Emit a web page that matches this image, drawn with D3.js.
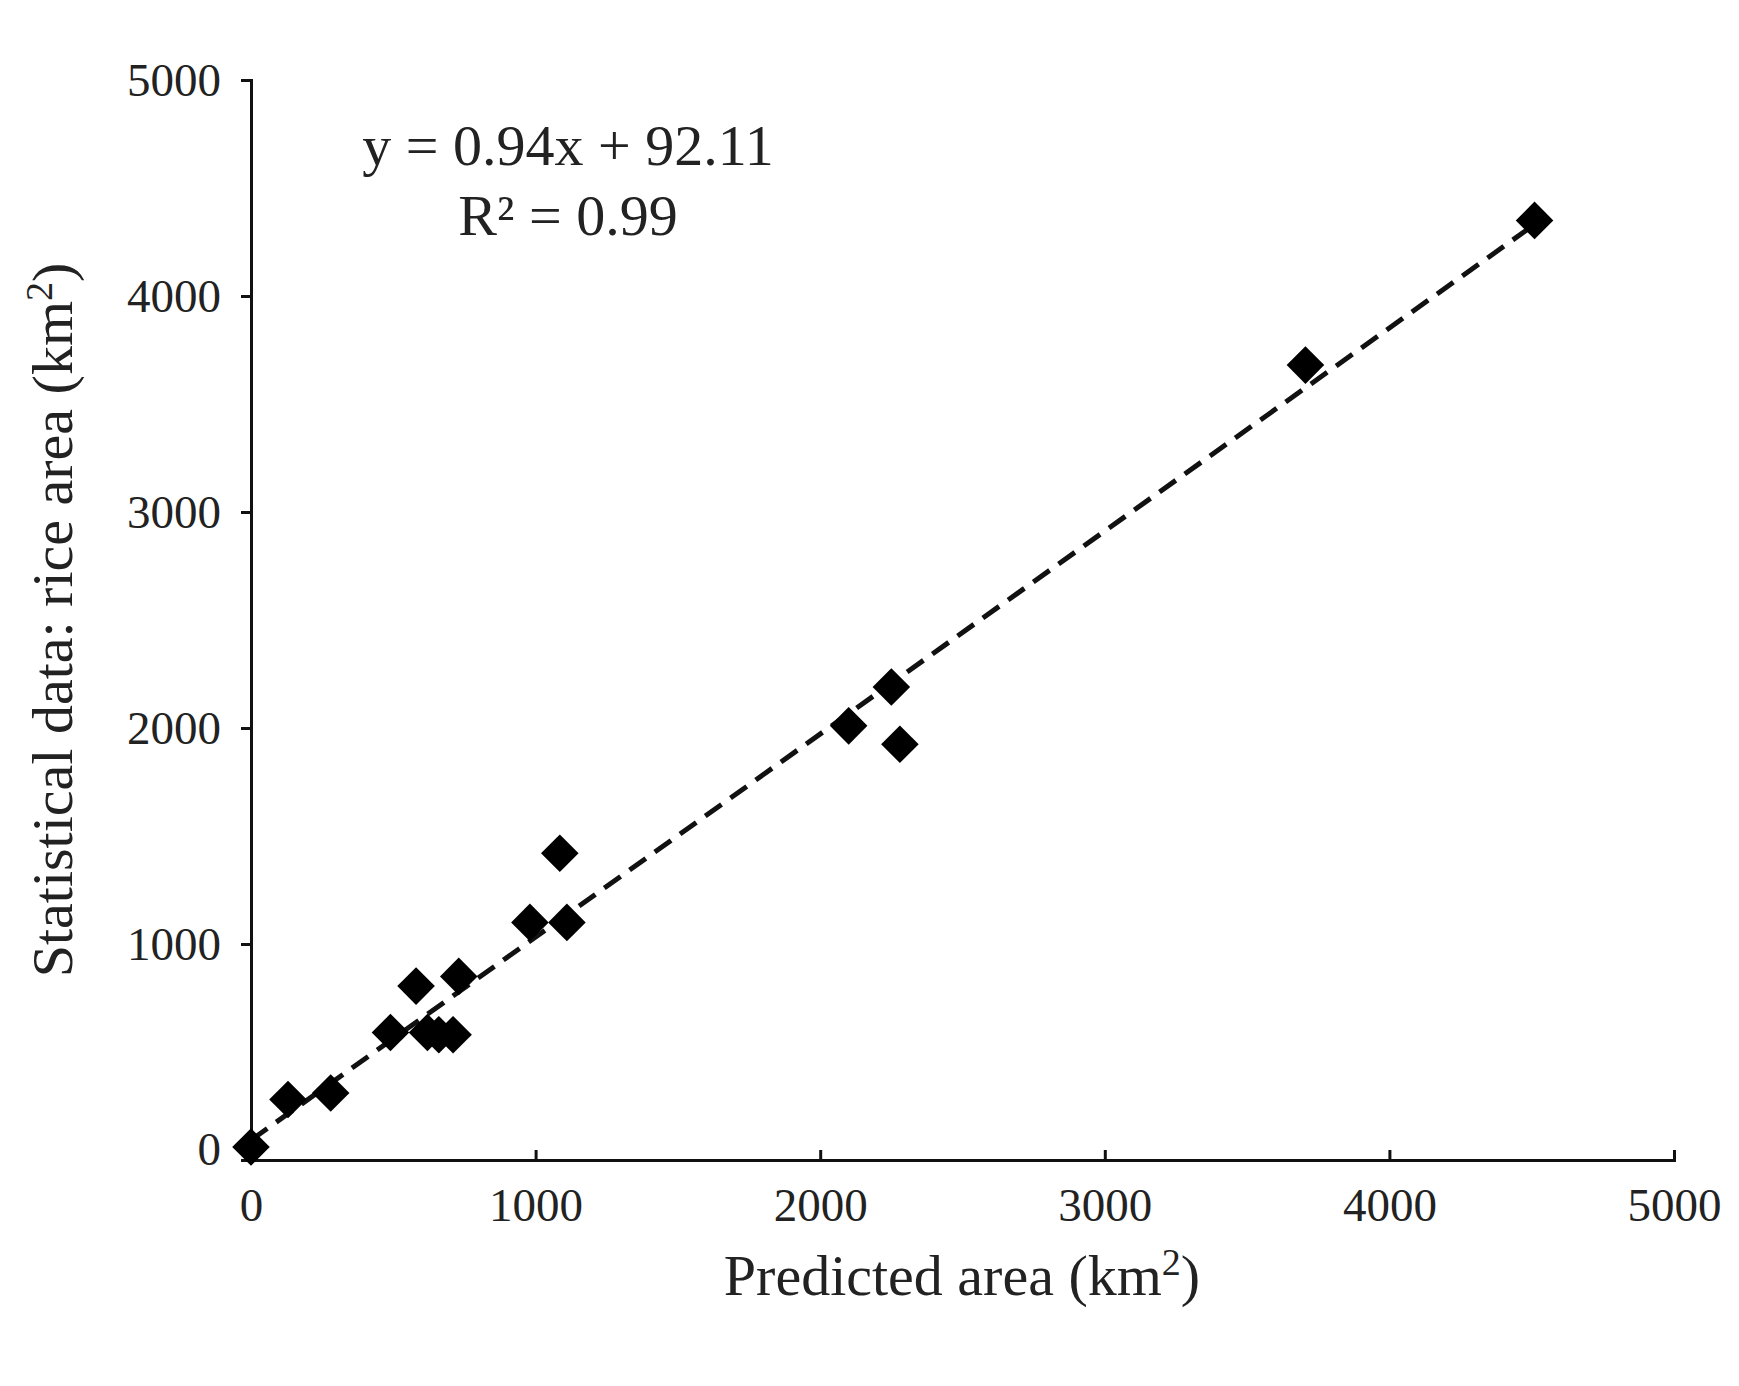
<html>
<head>
<meta charset="utf-8">
<style>
body { margin: 0; background: #fff; }
text { font-family: "Liberation Serif", "DejaVu Serif", serif; fill: #222; }
</style>
</head>
<body>
<script src="https://d3js.org/d3.v7.min.js"></script>
<svg id="chart" width="1739" height="1386"></svg>
<script>
// values
var predicted = [0, 130, 280, 490, 580, 620, 660, 710, 730, 980, 1085, 1110, 2100, 2250, 2280, 3705, 4510];
var statistical = [60, 280, 310, 590, 805, 590, 580, 580, 850, 1100, 1420, 1100, 2010, 2190, 1925, 3680, 4350];
var ticks = [0, 1000, 2000, 3000, 4000, 5000];
var slope = 0.94, intercept = 92.11;

var svg = d3.select("#chart");
var x = d3.scaleLinear().domain([0, 5000]).range([251, 1674]);
var y = d3.scaleLinear().domain([0, 5000]).range([1160, 80]);

var xAxis = svg.append("g").attr("transform", "translate(0," + y(0) + ")")
    .call(d3.axisBottom(x).tickValues(ticks).tickFormat(d3.format("d")).tickSize(-10).tickPadding(28).tickSizeOuter(-10));
var yAxis = svg.append("g").attr("transform", "translate(" + x(0) + ",0)")
    .call(d3.axisLeft(y).tickValues(ticks).tickFormat(d3.format("d")).tickSize(10).tickPadding(20).tickSizeOuter(10));
[xAxis, yAxis].forEach(function(a) {
    a.selectAll("path,line").attr("stroke", "#111").attr("stroke-width", 3);
    a.selectAll("text").style("font-size", "47px").style("font-family", "Liberation Serif, serif").attr("fill", "#222");
});
yAxis.selectAll(".tick text").filter(function(d) { return d == 0; }).attr("dy", "0.1em");

// trend line
svg.append("line")
    .attr("x1", x(0)).attr("y1", y(intercept))
    .attr("x2", x(4510)).attr("y2", y(slope * 4510 + intercept))
    .attr("stroke", "#111").attr("stroke-width", 5).attr("stroke-dasharray", "20,11");

// diamonds
var diamond = d3.symbol().type(d3.symbolDiamond2).size(900);
svg.selectAll(".pt").data(predicted).enter().append("path")
    .attr("d", diamond)
    .attr("transform", function(d, i) { return "translate(" + x(d) + "," + y(statistical[i]) + ")"; })
    .attr("fill", "#000");

svg.append("text").attr("x", 568).attr("y", 165).attr("text-anchor", "middle")
    .style("font-size", "58px").text("y = 0.94x + 92.11");
svg.append("text").attr("x", 568).attr("y", 235).attr("text-anchor", "middle")
    .style("font-size", "58px").text("R² = 0.99");

var xl = svg.append("text").attr("x", 962).attr("y", 1295).attr("text-anchor", "middle").style("font-size", "58px");
xl.append("tspan").text("Predicted area (km");
xl.append("tspan").attr("dy", -20).style("font-size", "38px").text("2");
xl.append("tspan").attr("dy", 20).text(")");

var yl = svg.append("text").attr("transform", "translate(72,620) rotate(-90)").attr("text-anchor", "middle").style("font-size", "58px");
yl.append("tspan").text("Statistical data: rice area (km");
yl.append("tspan").attr("dy", -20).style("font-size", "38px").text("2");
yl.append("tspan").attr("dy", 20).text(")");
</script>
</body>
</html>
